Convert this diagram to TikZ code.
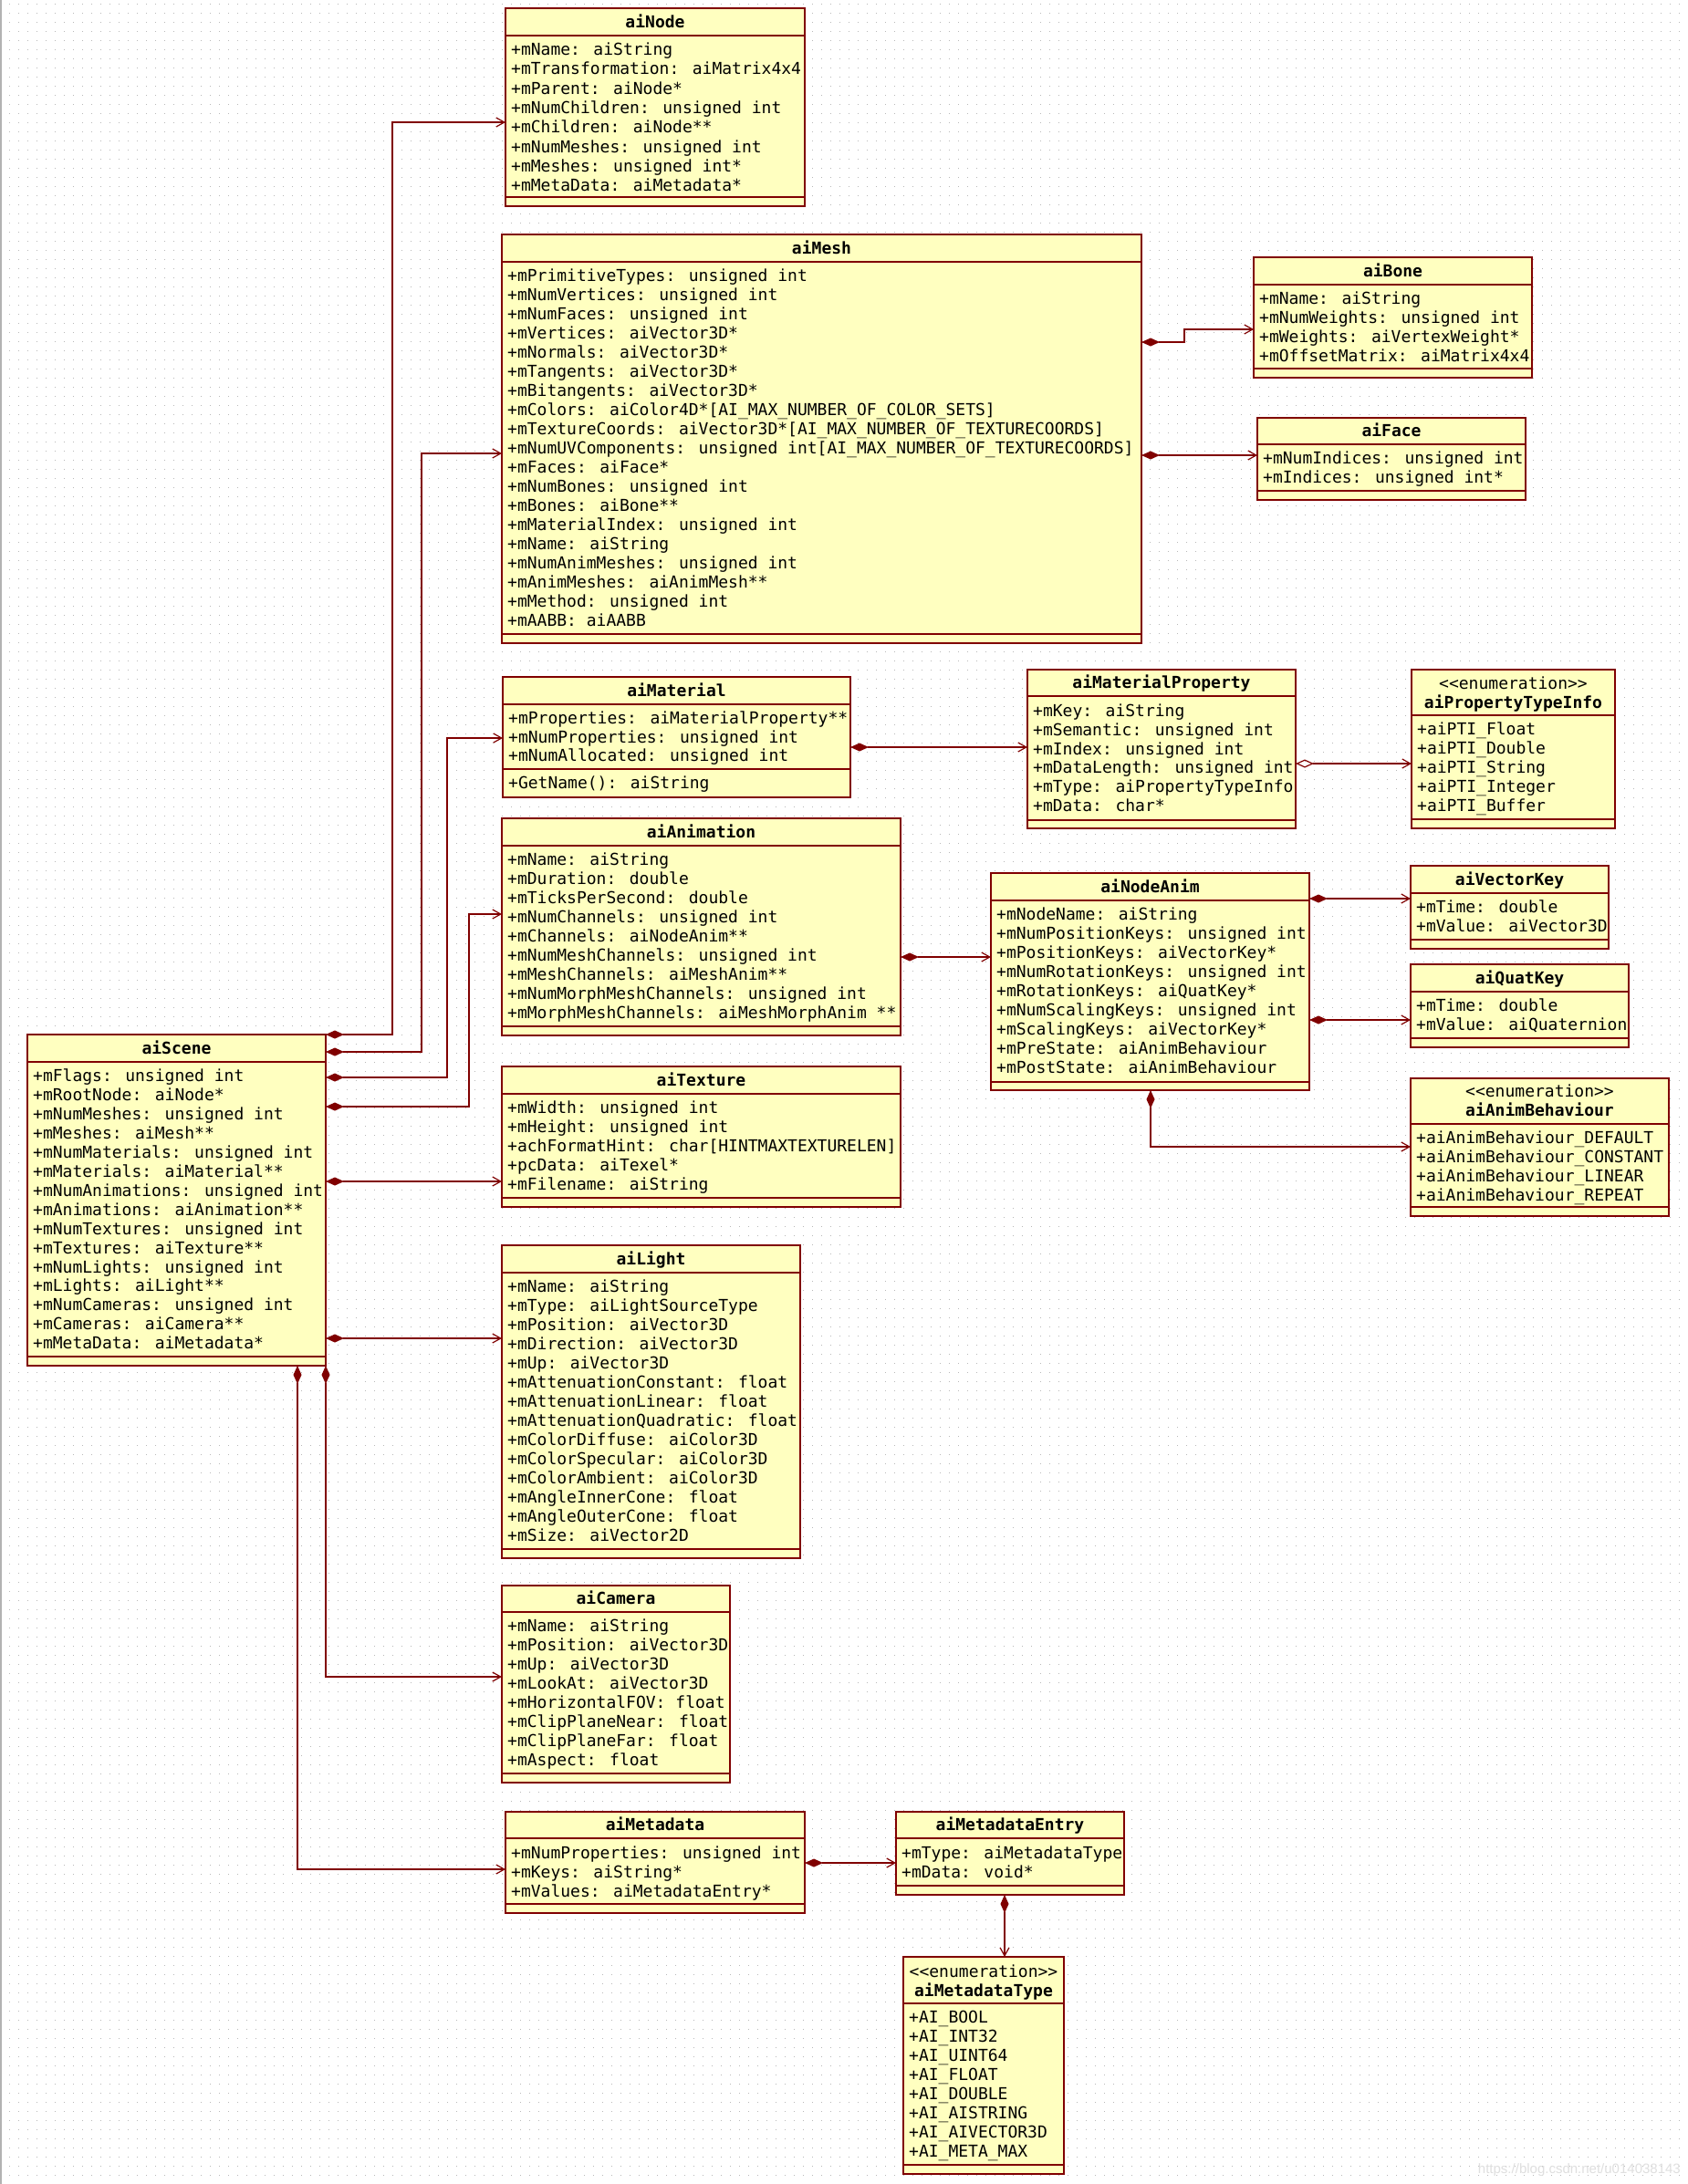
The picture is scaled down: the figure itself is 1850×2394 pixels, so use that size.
\documentclass[tikz,border=0pt]{standalone}
\usepackage{fontspec}
\newfontfamily\umlfont{DejaVu Sans Mono}
\newfontfamily\wmfont{Liberation Sans}
\usetikzlibrary{arrows.meta}
\definecolor{umlred}{RGB}{128,0,0}
\definecolor{umlfill}{RGB}{255,255,192}
\tikzset{
  classbox/.style={rectangle, draw=umlred, fill=umlfill, line width=1.3pt, inner sep=0pt, outer sep=0pt, anchor=north west},
  classline/.style={draw=umlred, line width=1.3pt},
  rowtxt/.style={anchor=base west, inner sep=0pt, xshift=6pt, text=black, font=\umlfont\fontsize{18}{21}\selectfont},
  titletxt/.style={anchor=base, inner sep=0pt, text=black, font=\umlfont\bfseries\fontsize{18}{21}\selectfont},
  stereotxt/.style={anchor=base, inner sep=0pt, text=black, font=\umlfont\fontsize{18}{21}\selectfont},
  comp/.style={draw=umlred, line width=1.2pt, arrows={Diamond[length=20pt,width=9pt]-Straight Barb[length=9pt,width=10pt]}},
  aggr/.style={draw=umlred, line width=1.2pt, arrows={Diamond[open,length=20pt,width=9pt]-Straight Barb[length=9pt,width=10pt]}},
  griddot/.style={draw=gray!55, line width=1pt, dash pattern=on 1pt off 9pt},
  wm/.style={inner sep=0pt, text=gray!25, font=\wmfont\fontsize{15}{18}\selectfont}
}
\newcommand\umlbox[7]{%
  \node[classbox, minimum width={(#4-#2)*1pt}, minimum height={(#5-#3)*1pt}] (#1) at (#2,#3) {};
  \draw[classline] (#1.west |- 0,#6) -- (#1.east |- 0,#6);
  \draw[classline] (#1.west |- 0,#7) -- (#1.east |- 0,#7);
}
\newcommand\umltitle[3]{%
  \pgfmathsetmacro\umlyy{#2+6.5}%
  \node[titletxt] (#1-t) at (#1.north |- 0,\umlyy) {#3};%
}
\newcommand\umlstereo[2]{%
  \pgfmathsetmacro\umlyy{#2+6.5}%
  \node[stereotxt] (#1-s) at (#1.north |- 0,\umlyy) {<{}<enumeration>{}>};%
}
\newcommand\umlrows[4]{%
  \foreach \rowtext [count=\i from 0] in {#4}{%
    \pgfmathsetmacro\umlyy{#2+#3*\i+6.5}%
    \node[rowtxt] (#1-r\i) at (#1.west |- 0,\umlyy) {\rowtext};%
  }%
}
\begin{document}
\begin{tikzpicture}[x=1pt,y=-1pt]
\useasboundingbox (0,0) rectangle (1850,2394);
\fill[white] (0,0) rectangle (1850,2394);
\foreach \gy in {4,14,...,2394} \draw[griddot] (0,\gy) -- (1850,\gy);
\draw[gray!60, line width=2pt] (1,0) -- (1,2394);

% ---------- classes ----------
\umlbox{aiNode}{554}{9}{882}{226}{39}{216}
\umltitle{aiNode}{24}{aiNode}
\umlrows{aiNode}{54}{21.3}{+mName: aiString,+mTransformation: aiMatrix4x4,+mParent: aiNode*,+mNumChildren: unsigned int,+mChildren: aiNode**,+mNumMeshes: unsigned int,+mMeshes: unsigned int*,+mMetaData: aiMetadata*}

\umlbox{aiMesh}{550}{257}{1251}{705}{287}{695}
\umltitle{aiMesh}{272}{aiMesh}
\umlrows{aiMesh}{302}{21}{+mPrimitiveTypes: unsigned int,+mNumVertices: unsigned int,+mNumFaces: unsigned int,+mVertices: aiVector3D*,+mNormals: aiVector3D*,+mTangents: aiVector3D*,+mBitangents: aiVector3D*,+mColors: aiColor4D*[AI\_MAX\_NUMBER\_OF\_COLOR\_SETS],+mTextureCoords: aiVector3D*[AI\_MAX\_NUMBER\_OF\_TEXTURECOORDS],+mNumUVComponents: unsigned int[AI\_MAX\_NUMBER\_OF\_TEXTURECOORDS],+mFaces: aiFace*,+mNumBones: unsigned int,+mBones: aiBone**,+mMaterialIndex: unsigned int,+mName: aiString,+mNumAnimMeshes: unsigned int,+mAnimMeshes: aiAnimMesh**,+mMethod: unsigned int,+mAABB: aiAABB}

\umlbox{aiBone}{1374}{282}{1679}{414}{312}{404}
\umltitle{aiBone}{297}{aiBone}
\umlrows{aiBone}{327}{21}{+mName: aiString,+mNumWeights: unsigned int,+mWeights: aiVertexWeight*,+mOffsetMatrix: aiMatrix4x4}

\umlbox{aiFace}{1378}{458}{1672}{548}{487}{538}
\umltitle{aiFace}{472}{aiFace}
\umlrows{aiFace}{502}{21}{+mNumIndices: unsigned int,+mIndices: unsigned int*}

\umlbox{aiMaterial}{551}{742}{932}{874}{772}{843}
\umltitle{aiMaterial}{757}{aiMaterial}
\umlrows{aiMaterial}{787}{20.5}{+mProperties: aiMaterialProperty**,+mNumProperties: unsigned int,+mNumAllocated: unsigned int}
\pgfmathsetmacro\umlyy{858+6.5}
\node[rowtxt] (aiMaterial-op) at (aiMaterial.west |- 0,\umlyy) {+GetName(): aiString};

\umlbox{aiMaterialProperty}{1126}{734}{1420}{908}{763}{899}
\umltitle{aiMaterialProperty}{748}{aiMaterialProperty}
\umlrows{aiMaterialProperty}{779}{20.8}{+mKey: aiString,+mSemantic: unsigned int,+mIndex: unsigned int,+mDataLength: unsigned int,+mType: aiPropertyTypeInfo,+mData: char*}

\umlbox{aiPropertyTypeInfo}{1547}{734}{1770}{908}{784}{898}
\umlstereo{aiPropertyTypeInfo}{749}
\umltitle{aiPropertyTypeInfo}{770}{aiPropertyTypeInfo}
\umlrows{aiPropertyTypeInfo}{799}{21}{+aiPTI\_Float,+aiPTI\_Double,+aiPTI\_String,+aiPTI\_Integer,+aiPTI\_Buffer}

\umlbox{aiAnimation}{550}{897}{987}{1135}{927}{1125}
\umltitle{aiAnimation}{912}{aiAnimation}
\umlrows{aiAnimation}{942}{21}{+mName: aiString,+mDuration: double,+mTicksPerSecond: double,+mNumChannels: unsigned int,+mChannels: aiNodeAnim**,+mNumMeshChannels: unsigned int,+mMeshChannels: aiMeshAnim**,+mNumMorphMeshChannels: unsigned int,+mMorphMeshChannels: aiMeshMorphAnim **}

\umlbox{aiNodeAnim}{1086}{957}{1435}{1195}{987}{1186}
\umltitle{aiNodeAnim}{972}{aiNodeAnim}
\umlrows{aiNodeAnim}{1002}{21}{+mNodeName: aiString,+mNumPositionKeys: unsigned int,+mPositionKeys: aiVectorKey*,+mNumRotationKeys: unsigned int,+mRotationKeys: aiQuatKey*,+mNumScalingKeys: unsigned int,+mScalingKeys: aiVectorKey*,+mPreState: aiAnimBehaviour,+mPostState: aiAnimBehaviour}

\umlbox{aiVectorKey}{1546}{949}{1763}{1040}{979}{1030}
\umltitle{aiVectorKey}{964}{aiVectorKey}
\umlrows{aiVectorKey}{994}{21}{+mTime: double,+mValue: aiVector3D}

\umlbox{aiQuatKey}{1546}{1057}{1785}{1148}{1087}{1138}
\umltitle{aiQuatKey}{1072}{aiQuatKey}
\umlrows{aiQuatKey}{1102}{21}{+mTime: double,+mValue: aiQuaternion}

\umlbox{aiAnimBehaviour}{1546}{1182}{1829}{1333}{1232}{1323}
\umlstereo{aiAnimBehaviour}{1196}
\umltitle{aiAnimBehaviour}{1217}{aiAnimBehaviour}
\umlrows{aiAnimBehaviour}{1247}{21}{+aiAnimBehaviour\_DEFAULT,+aiAnimBehaviour\_CONSTANT,+aiAnimBehaviour\_LINEAR,+aiAnimBehaviour\_REPEAT}

\umlbox{aiTexture}{550}{1169}{987}{1323}{1199}{1313}
\umltitle{aiTexture}{1184}{aiTexture}
\umlrows{aiTexture}{1214}{21}{+mWidth: unsigned int,+mHeight: unsigned int,+achFormatHint: char[HINTMAXTEXTURELEN],+pcData: aiTexel*,+mFilename: aiString}

\umlbox{aiLight}{550}{1365}{877}{1708}{1395}{1698}
\umltitle{aiLight}{1380}{aiLight}
\umlrows{aiLight}{1410}{21}{+mName: aiString,+mType: aiLightSourceType,+mPosition: aiVector3D,+mDirection: aiVector3D,+mUp: aiVector3D,+mAttenuationConstant: float,+mAttenuationLinear: float,+mAttenuationQuadratic: float,+mColorDiffuse: aiColor3D,+mColorSpecular: aiColor3D,+mColorAmbient: aiColor3D,+mAngleInnerCone: float,+mAngleOuterCone: float,+mSize: aiVector2D}

\umlbox{aiCamera}{550}{1738}{800}{1954}{1767}{1944}
\umltitle{aiCamera}{1752}{aiCamera}
\umlrows{aiCamera}{1782}{21}{+mName: aiString,+mPosition: aiVector3D,+mUp: aiVector3D,+mLookAt: aiVector3D,+mHorizontalFOV: float,+mClipPlaneNear: float,+mClipPlaneFar: float,+mAspect: float}

\umlbox{aiMetadata}{554}{1986}{882}{2097}{2015}{2087}
\umltitle{aiMetadata}{2000}{aiMetadata}
\umlrows{aiMetadata}{2031}{21}{+mNumProperties: unsigned int,+mKeys: aiString*,+mValues: aiMetadataEntry*}

\umlbox{aiMetadataEntry}{982}{1986}{1232}{2077}{2015}{2067}
\umltitle{aiMetadataEntry}{2000}{aiMetadataEntry}
\umlrows{aiMetadataEntry}{2031}{21}{+mType: aiMetadataType,+mData: void*}

\umlbox{aiMetadataType}{990}{2145}{1166}{2383}{2196}{2373}
\umlstereo{aiMetadataType}{2161}
\umltitle{aiMetadataType}{2182}{aiMetadataType}
\umlrows{aiMetadataType}{2211}{21}{+AI\_BOOL,+AI\_INT32,+AI\_UINT64,+AI\_FLOAT,+AI\_DOUBLE,+AI\_AISTRING,+AI\_AIVECTOR3D,+AI\_META\_MAX}

\umlbox{aiScene}{30}{1134}{357}{1497}{1164}{1487}
\umltitle{aiScene}{1149}{aiScene}
\umlrows{aiScene}{1179}{20.95}{+mFlags: unsigned int,+mRootNode: aiNode*,+mNumMeshes: unsigned int,+mMeshes: aiMesh**,+mNumMaterials: unsigned int,+mMaterials: aiMaterial**,+mNumAnimations: unsigned int,+mAnimations: aiAnimation**,+mNumTextures: unsigned int,+mTextures: aiTexture**,+mNumLights: unsigned int,+mLights: aiLight**,+mNumCameras: unsigned int,+mCameras: aiCamera**,+mMetaData: aiMetadata*}

% ---------- connectors ----------
\draw[comp] (aiScene.east |- 0,1134) -- (430,1134) |- (aiNode.west |- 0,134);
\draw[comp] (aiScene.east |- 0,1153) -- (462,1153) |- (aiMesh.west |- 0,497);
\draw[comp] (aiScene.east |- 0,1181) -- (490,1181) |- (aiMaterial.west |- 0,809);
\draw[comp] (aiScene.east |- 0,1213) -- (514,1213) |- (aiAnimation.west |- 0,1002);
\draw[comp] (aiScene.east |- 0,1295) -- (aiTexture.west |- 0,1295);
\draw[comp] (aiScene.east |- 0,1467) -- (aiLight.west |- 0,1467);
\draw[comp] (aiScene.south east) |- (aiCamera.west |- 0,1838);
\draw[comp] (aiScene.south -| 326,0) |- (aiMetadata.west |- 0,2049);
\draw[comp] (aiMesh.east |- 0,375) -- (1298,375) |- (aiBone.west |- 0,361);
\draw[comp] (aiMesh.east |- 0,499) -- (aiFace.west |- 0,499);
\draw[comp] (aiMaterial.east |- 0,819) -- (aiMaterialProperty.west |- 0,819);
\draw[aggr] (aiMaterialProperty.east |- 0,837) -- (aiPropertyTypeInfo.west |- 0,837);
\draw[comp] (aiAnimation.east |- 0,1049) -- (aiNodeAnim.west |- 0,1049);
\draw[comp] (aiNodeAnim.east |- 0,985) -- (aiVectorKey.west |- 0,985);
\draw[comp] (aiNodeAnim.east |- 0,1118) -- (aiQuatKey.west |- 0,1118);
\draw[comp] (aiNodeAnim.south -| 1261,0) |- (aiAnimBehaviour.west |- 0,1257);
\draw[comp] (aiMetadata.east |- 0,2042) -- (aiMetadataEntry.west |- 0,2042);
\draw[comp] (aiMetadataEntry.south -| 1101,0) -- (aiMetadataType.north -| 1101,0);

\node[wm, anchor=base east] (watermark) at (1842,2382) {https://blog.csdn.net/u014038143};
\end{tikzpicture}
\end{document}
